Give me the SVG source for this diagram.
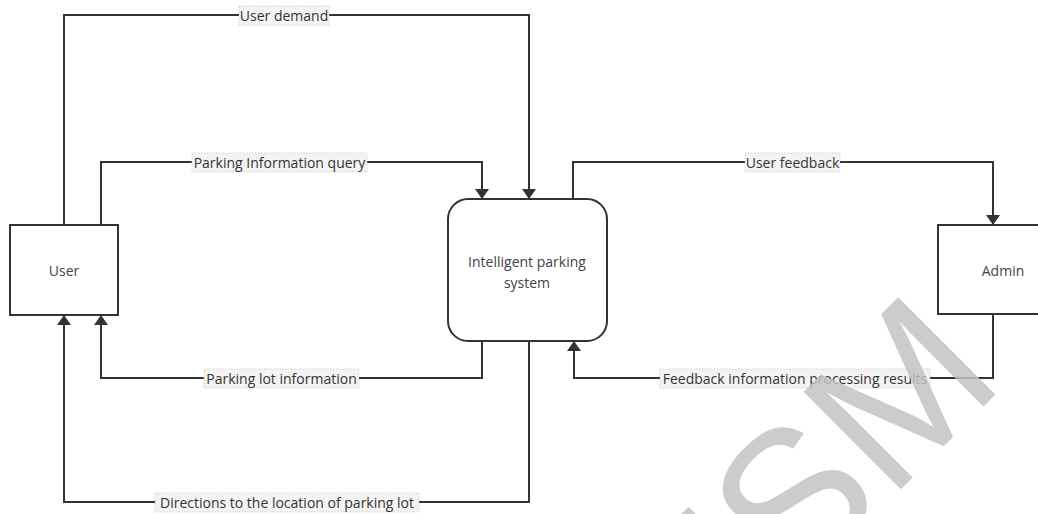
<svg xmlns="http://www.w3.org/2000/svg" width="1038" height="514" viewBox="0 0 1038 514">
<style>
.node{fill:#ffffff;stroke:#333333;stroke-width:2}
.conn{fill:none;stroke:#333333;stroke-width:2;marker-end:url(#arr)}
.lblbg{fill:#f3f3f3;stroke:#c8c8c8;stroke-width:0.8;stroke-dasharray:1.5 1.5}
.lbl{font-family:"Open Sans","Liberation Sans",sans-serif;font-size:14px;fill:#333333;text-anchor:middle;dominant-baseline:central}
.ntxt{font-family:"Open Sans","Liberation Sans",sans-serif;font-size:14px;fill:#444444;text-anchor:middle;dominant-baseline:central}
.wm{font-family:"Liberation Sans",sans-serif;font-size:200px;fill:#c4c4c4;opacity:0.85;text-anchor:end}
</style>
<defs>
<marker id="arr" viewBox="0 0 10 14" refX="10" refY="7" markerWidth="10" markerHeight="14" markerUnits="userSpaceOnUse" orient="auto">
<path d="M0,0 L10,7 L0,14 Z" fill="#333333"/>
</marker>
</defs>
<rect width="1038" height="514" fill="#ffffff"/>
<g id="connectors">
<path class="conn" d="M64,225 V15 H529 V199"/>
<path class="conn" d="M101,225 V162 H482 V199"/>
<path class="conn" d="M482,341 V378 H101 V315"/>
<path class="conn" d="M529,341 V502 H64 V315"/>
<path class="conn" d="M573,199 V162 H993 V225"/>
<path class="conn" d="M993,314 V378 H574 V341"/>
<g id="labels">
<rect class="lblbg" x="239" y="6" width="90" height="19"/>
<text class="lbl" x="284" y="15.5">User demand</text>
<rect class="lblbg" x="192" y="153" width="175" height="19"/>
<text class="lbl" x="279.5" y="162.5">Parking Information query</text>
<rect class="lblbg" x="204" y="369" width="155" height="19"/>
<text class="lbl" x="281.5" y="378.5">Parking lot information</text>
<rect class="lblbg" x="155" y="493" width="264" height="19"/>
<text class="lbl" x="287" y="502.5">Directions to the location of parking lot</text>
<rect class="lblbg" x="745" y="153" width="95" height="19"/>
<text class="lbl" x="792.5" y="162.5">User feedback</text>
<rect class="lblbg" x="660" y="369" width="270" height="19"/>
<text class="lbl" x="795" y="378.5">Feedback information processing results</text>
</g>
</g>
<g id="user">
<rect class="node" x="10" y="225" width="108" height="90"/>
<text class="ntxt" x="64" y="270">User</text>
</g>
<g id="system">
<rect class="node" x="448" y="199" width="159" height="142" rx="20" ry="20"/>
<text class="ntxt" x="527" y="261">Intelligent parking</text>
<text class="ntxt" x="527" y="282">system</text>
</g>
<g id="admin">
<rect class="node" x="938" y="225" width="110" height="89"/>
<text class="ntxt" x="1003" y="270">Admin</text>
</g>
<text class="wm" x="0" y="0" transform="translate(1007,383) rotate(-45)">ESM</text>
</svg>
